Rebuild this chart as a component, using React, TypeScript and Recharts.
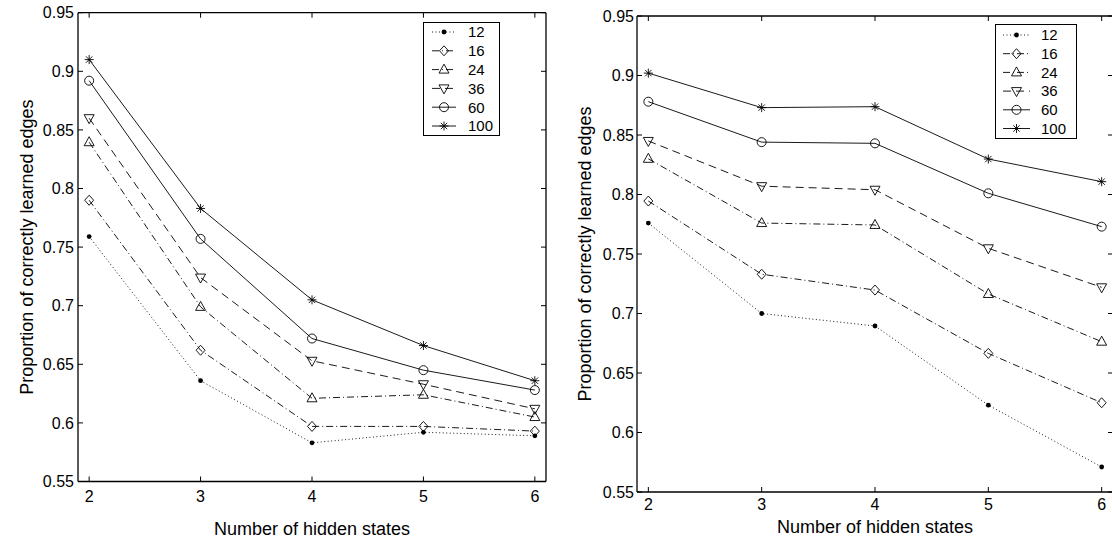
import React from 'react';
import { LineChart, Line, XAxis, YAxis, Legend } from 'recharts';

const HIDDEN_STATES = [2, 3, 4, 5, 6];
const SERIES_NAMES = ['12', '16', '24', '36', '60', '100'];
const Y_TICKS = [0.55, 0.6, 0.65, 0.7, 0.75, 0.8, 0.85, 0.9, 0.95];
const X_TICKS = [2, 3, 4, 5, 6];
const X_LABEL = 'Number of hidden states';
const Y_LABEL = 'Proportion of correctly learned edges';

// Left panel
const LEFT_12 = [0.759, 0.636, 0.583, 0.592, 0.589];
const LEFT_16 = [0.79, 0.662, 0.597, 0.597, 0.593];
const LEFT_24 = [0.8395, 0.699, 0.621, 0.624, 0.605];
const LEFT_36 = [0.86, 0.724, 0.653, 0.633, 0.612];
const LEFT_60 = [0.892, 0.757, 0.672, 0.645, 0.628];
const LEFT_100 = [0.91, 0.783, 0.705, 0.666, 0.636];

// Right panel
const RIGHT_12 = [0.776, 0.7, 0.6895, 0.623, 0.571];
const RIGHT_16 = [0.7945, 0.733, 0.7197, 0.6665, 0.625];
const RIGHT_24 = [0.83, 0.776, 0.7744, 0.7164, 0.6763];
const RIGHT_36 = [0.845, 0.807, 0.804, 0.7548, 0.722];
const RIGHT_60 = [0.878, 0.844, 0.843, 0.801, 0.773];
const RIGHT_100 = [0.902, 0.873, 0.8738, 0.8298, 0.8108];

const FONT = '"Liberation Sans", Arial, Helvetica, sans-serif';
const TICK_LEN = 5;
const TICK_FONT = 16;
const TICK_COLOR = '#000';

type Shape = 'dot' | 'diamond' | 'up' | 'down' | 'circle' | 'star';

const STYLES: { shape: Shape; dash: string | undefined }[] = [
  { shape: 'dot', dash: '1 2.5' },
  { shape: 'diamond', dash: '7 3 1 3' },
  { shape: 'up', dash: '7 3 1 3' },
  { shape: 'down', dash: '8 5' },
  { shape: 'circle', dash: undefined },
  { shape: 'star', dash: undefined },
];

const Marker = ({ shape, cx, cy }: { shape: Shape; cx: number; cy: number }) => {
  const s = '#000';
  const w = 0.9;
  switch (shape) {
    case 'dot':
      return <circle cx={cx} cy={cy} r={2.4} fill={s} stroke="none" />;
    case 'diamond':
      return (
        <polygon
          points={`${cx},${cy - 5} ${cx + 4.5},${cy} ${cx},${cy + 5} ${cx - 4.5},${cy}`}
          fill="none" stroke={s} strokeWidth={w}
        />
      );
    case 'up':
      return (
        <polygon
          points={`${cx},${cy - 5.5} ${cx + 5},${cy + 3.5} ${cx - 5},${cy + 3.5}`}
          fill="none" stroke={s} strokeWidth={w}
        />
      );
    case 'down':
      return (
        <polygon
          points={`${cx},${cy + 5.5} ${cx + 5},${cy - 3.5} ${cx - 5},${cy - 3.5}`}
          fill="none" stroke={s} strokeWidth={w}
        />
      );
    case 'circle':
      return <circle cx={cx} cy={cy} r={4.5} fill="none" stroke={s} strokeWidth={w} />;
    case 'star': {
      const r = 4.5;
      const d = r * 0.7071;
      return (
        <g stroke={s} strokeWidth={w}>
          <line x1={cx - r} y1={cy} x2={cx + r} y2={cy} />
          <line x1={cx} y1={cy - r} x2={cx} y2={cy + r} />
          <line x1={cx - d} y1={cy - d} x2={cx + d} y2={cy + d} />
          <line x1={cx - d} y1={cy + d} x2={cx + d} y2={cy - d} />
        </g>
      );
    }
  }
  return null;
};

const makeDot = (shape: Shape, id: string) => (props: any) => {
  const { cx, cy, index } = props;
  if (cx == null || cy == null) return <g key={`${id}-${index}`} />;
  return (
    <g key={`${id}-${index}`}>
      <Marker shape={shape} cx={cx} cy={cy} />
    </g>
  );
};

const buildData = (series: number[][]) =>
  HIDDEN_STATES.map((x, i) => {
    const row: Record<string, number> = { x };
    SERIES_NAMES.forEach((n, k) => {
      row['s' + n] = series[k][i];
    });
    return row;
  });

const LEFT_DATA = buildData([LEFT_12, LEFT_16, LEFT_24, LEFT_36, LEFT_60, LEFT_100]);
const RIGHT_DATA = buildData([RIGHT_12, RIGHT_16, RIGHT_24, RIGHT_36, RIGHT_60, RIGHT_100]);

// Custom tick renderers: inward tick marks (MATLAB style) plus labels
const bottomTick = (m: number) => (props: any) => {
  const { x, y, payload } = props;
  const ay = y - m;
  return (
    <g>
      <line x1={x} y1={ay} x2={x} y2={ay - TICK_LEN} stroke={TICK_COLOR} strokeWidth={1} />
      <text x={x} y={y} dy="0.71em" textAnchor="middle" fontSize={TICK_FONT} fontFamily={FONT} fill="#000">
        {String(payload.value)}
      </text>
    </g>
  );
};

const leftTick = (m: number) => (props: any) => {
  const { x, y, payload } = props;
  const ax = x + m;
  return (
    <g>
      <line x1={ax} y1={y} x2={ax + TICK_LEN} y2={y} stroke={TICK_COLOR} strokeWidth={1} />
      <text x={x} y={y} dy="0.355em" textAnchor="end" fontSize={TICK_FONT} fontFamily={FONT} fill="#000">
        {String(payload.value)}
      </text>
    </g>
  );
};

const topTick = (props: any) => {
  const { x, y } = props;
  return <line x1={x} y1={y} x2={x} y2={y + TICK_LEN} stroke={TICK_COLOR} strokeWidth={1} />;
};

const rightTick = (props: any) => {
  const { x, y } = props;
  return <line x1={x} y1={y} x2={x - TICK_LEN} y2={y} stroke={TICK_COLOR} strokeWidth={1} />;
};

const LegendBox = ({
  width, height, firstRow, rowH, sx1, sx2, tx,
}: { width: number; height: number; firstRow: number; rowH: number; sx1: number; sx2: number; tx: number }) => (
  <div style={{ width, height, border: '1px solid #000', background: '#fff', boxSizing: 'border-box' }}>
    <svg width={width - 2} height={height - 2} style={{ display: 'block' }}>
      {SERIES_NAMES.map((n, i) => {
        const cy = firstRow + i * rowH - 1;
        const st = STYLES[i];
        const mx = (sx1 + sx2) / 2 - 1;
        return (
          <g key={n}>
            <line x1={sx1 - 1} y1={cy} x2={sx2 - 1} y2={cy} stroke="#000" strokeWidth={0.9} strokeDasharray={st.dash} />
            <Marker shape={st.shape} cx={mx} cy={cy} />
            <text x={tx - 1} y={cy + 5.3} fontSize={15} fontFamily={FONT} fill="#000">{n}</text>
          </g>
        );
      })}
    </svg>
  </div>
);

type PanelProps = {
  data: Record<string, number>[];
  width: number;
  top: number;
  yAxisW: number;
  rightW: number;
  xAxisH: number;
  xTickMargin: number;
  yTickMargin: number;
  yLabelOffset: number;
  xLabelOffset: number;
  legend: { left: number; top: number; width: number; height: number; firstRow: number; rowH: number; sx1: number; sx2: number; tx: number };
  id: string;
};

const axisLineStyle = { stroke: '#000', strokeWidth: 1.3 };

const Panel = (p: PanelProps) => (
  <LineChart
    width={p.width}
    height={540}
    data={p.data}
    margin={{ top: p.top - 1, right: 0, bottom: 0, left: 0 }}
  >
    <XAxis
      dataKey="x"
      type="number"
      domain={[1.9, 6.1]}
      ticks={X_TICKS}
      allowDataOverflow
      interval={0}
      height={p.xAxisH}
      tickSize={0}
      tickMargin={p.xTickMargin}
      tick={bottomTick(p.xTickMargin)}
      tickLine={false}
      axisLine={axisLineStyle}
      label={{
        value: X_LABEL,
        position: 'insideBottom',
        offset: p.xLabelOffset,
        style: { fill: '#000', fontSize: 18, fontFamily: FONT },
      }}
    />
    <XAxis
      xAxisId="top"
      orientation="top"
      dataKey="x"
      type="number"
      domain={[1.9, 6.1]}
      ticks={X_TICKS}
      allowDataOverflow
      interval={0}
      height={1}
      tickSize={0}
      tickMargin={0}
      tick={topTick}
      tickLine={false}
      axisLine={axisLineStyle}
    />
    <YAxis
      type="number"
      domain={[0.55, 0.95]}
      ticks={Y_TICKS}
      allowDataOverflow
      interval={0}
      width={p.yAxisW}
      tickSize={0}
      tickMargin={p.yTickMargin}
      tick={leftTick(p.yTickMargin)}
      tickLine={false}
      axisLine={axisLineStyle}
      label={{
        value: Y_LABEL,
        angle: -90,
        position: 'insideLeft',
        offset: p.yLabelOffset,
        style: { fill: '#000', fontSize: 18, fontFamily: FONT, textAnchor: 'middle' },
      }}
    />
    <YAxis
      yAxisId="right"
      orientation="right"
      type="number"
      domain={[0.55, 0.95]}
      ticks={Y_TICKS}
      allowDataOverflow
      interval={0}
      width={p.rightW}
      tickSize={0}
      tickMargin={0}
      tick={rightTick}
      tickLine={false}
      axisLine={axisLineStyle}
    />
    <Legend
      layout="vertical"
      align="center"
      verticalAlign="middle"
      wrapperStyle={{ left: p.legend.left, top: p.legend.top, width: p.legend.width, height: p.legend.height }}
      content={() => <LegendBox {...p.legend} />}
    />
    {SERIES_NAMES.map((n, i) => (
      <Line
        key={n}
        name={n}
        dataKey={'s' + n}
        stroke="#000"
        strokeWidth={0.9}
        strokeDasharray={STYLES[i].dash}
        dot={makeDot(STYLES[i].shape, p.id + n)}
        activeDot={false}
        isAnimationActive={false}
      />
    ))}
  </LineChart>
);

export default function App() {
  return (
    <div
      style={{
        position: 'absolute', left: 0, top: 0, width: 1112, height: 540,
        overflow: 'hidden', background: '#fff',
      }}
    >
      <div style={{ position: 'absolute', left: 0, top: 0 }}>
        <Panel
          id="L"
          data={LEFT_DATA}
          width={556}
          top={12.7}
          yAxisW={78}
          rightW={10}
          xAxisH={58.5}
          xTickMargin={8.8}
          yTickMargin={4}
          yLabelOffset={27}
          xLabelOffset={4.6}
          legend={{ left: 423, top: 22, width: 77, height: 114, firstRow: 10, rowH: 18.8, sx1: 9, sx2: 33, tx: 45 }}
        />
      </div>
      <div style={{ position: 'absolute', left: 560, top: 0 }}>
        <Panel
          id="R"
          data={RIGHT_DATA}
          width={555}
          top={16}
          yAxisW={77}
          rightW={2}
          xAxisH={48}
          xTickMargin={6.3}
          yTickMargin={3}
          yLabelOffset={25}
          xLabelOffset={6.6}
          legend={{ left: 435, top: 24, width: 82, height: 115, firstRow: 11, rowH: 18.7, sx1: 8, sx2: 35, tx: 46 }}
        />
      </div>
    </div>
  );
}
